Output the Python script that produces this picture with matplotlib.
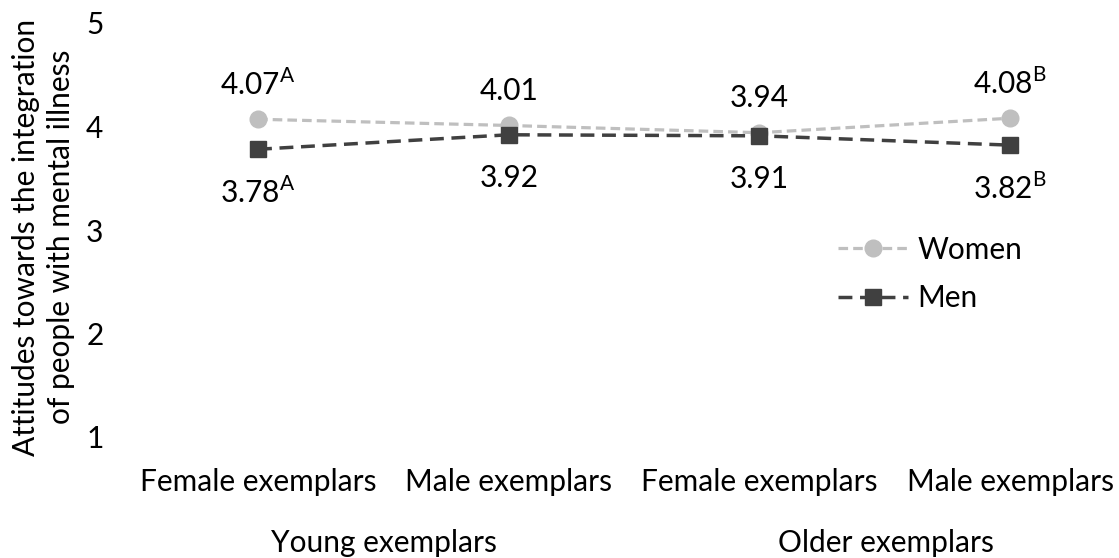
import matplotlib.pyplot as plt

plt.rcParams['font.family'] = ['Lato', 'DejaVu Sans']
plt.rcParams['mathtext.fontset'] = 'custom'
plt.rcParams['mathtext.rm'] = 'Lato'

categories = ['Female exemplars', 'Male exemplars', 'Female exemplars', 'Male exemplars']
groups = ['Young exemplars', 'Older exemplars']
women = [4.07, 4.01, 3.94, 4.08]
men = [3.78, 3.92, 3.91, 3.82]
women_sup = ['A', '', '', 'B']
men_sup = ['A', '', '', 'B']

FS = 21.5
W, H = 1119, 558

fig = plt.figure(figsize=(W / 100, H / 100), dpi=100)
# axes placed so that x=0..3 sits at ~258..1010 px and y=1..5 at ~437..23 px
ax = fig.add_axes([107.6 / W, (H - 437) / H, (1110.3 - 107.6) / W, 414 / H])

x = range(len(categories))
ax.plot(x, women, color='#BFBFBF', lw=2.3, ls=(0, (3, 1.6)), marker='o', ms=12, label='Women')
ax.plot(x, men, color='#404040', lw=2.5, ls=(0, (4, 2.2)), marker='s', ms=11.5, label='Men')


def lab(v, sup):
    return f'{v:.2f}' + (f'$^{{\\mathrm{{{sup}}}}}$' if sup else '')


for i in x:
    ax.annotate(lab(women[i], women_sup[i]), (i, women[i]), xytext=(0, 25), textcoords='offset points',
                ha='center', va='center', fontsize=FS)
    ax.annotate(lab(men[i], men_sup[i]), (i, men[i]), xytext=(0, -31), textcoords='offset points',
                ha='center', va='center', fontsize=FS)

ax.set_xlim(-0.6, 3.4)
ax.set_ylim(1, 5)
ax.set_yticks([1, 2, 3, 4, 5])
ax.set_xticks(list(x))
ax.set_xticklabels(categories)
ax.tick_params(axis='both', length=0, labelsize=FS)
ax.tick_params(axis='x', pad=22)
ax.tick_params(axis='y', pad=3)
for s in ax.spines.values():
    s.set_visible(False)

fig.text(43.5 / W, 1 - 237 / H, 'Attitudes towards the integration\nof people with mental illness',
         rotation=90, ha='center', va='center', multialignment='center', fontsize=FS, linespacing=1.3)

fig.text(384 / W, 1 - 543 / H, groups[0], ha='center', va='center', fontsize=FS)
fig.text(886 / W, 1 - 543 / H, groups[1], ha='center', va='center', fontsize=FS)

fig.legend(loc='center left', bbox_to_anchor=(838 / W, 1 - 274 / H), frameon=False,
           fontsize=FS, handlelength=2.35, labelspacing=0.7, handletextpad=0.3,
           borderpad=0, borderaxespad=0)

fig.savefig('out.png', dpi=100)
